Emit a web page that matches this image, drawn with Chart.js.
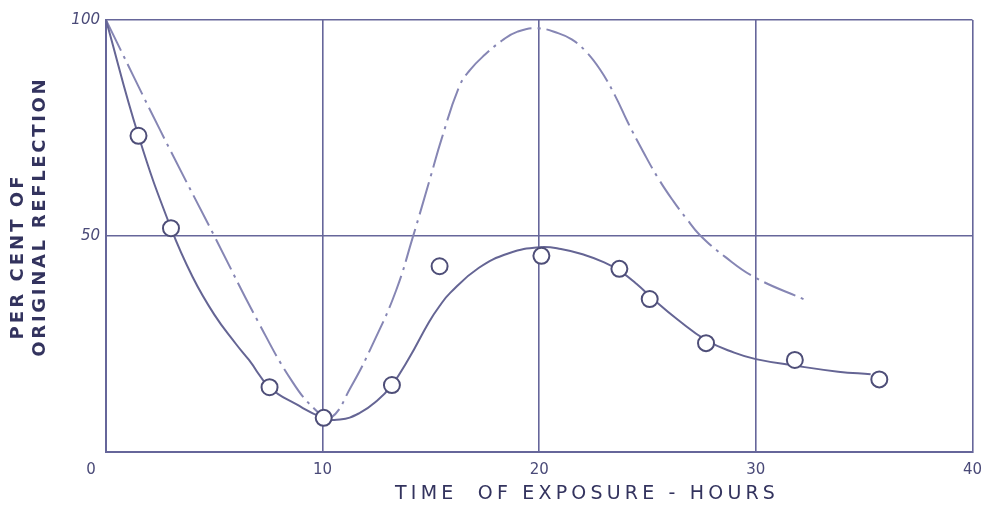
<!DOCTYPE html>
<html>
<head>
<meta charset="utf-8">
<script src="https://cdn.jsdelivr.net/npm/chart.js@4/dist/chart.umd.min.js"></script>
<style>
html,body{margin:0;padding:0;background:#ffffff;}
#wrap{width:991px;height:512px;position:relative;}
</style>
</head>
<body>
<div id="wrap"><canvas id="c" width="991" height="512"></canvas></div>
<script>
// ---- data ----
const xTickValues = [0, 10, 20, 30, 40];
const yTickValues = [0, 50, 100];

// measured points (open circles)
const obsHours      = [1.5, 3.0, 7.55, 10.05, 13.2, 15.4, 20.1, 23.7, 25.1, 27.7, 31.8, 35.7];
const obsReflection = [73.2, 51.8, 15.0, 7.9, 15.5, 43.0, 45.4, 42.4, 35.4, 25.2, 21.3, 16.8];

// smooth solid curve drawn through the points
const fitHours      = [0, 1.5, 3.0, 4.0, 5.0, 6.0, 6.6, 7.55, 8.8, 10.0, 10.8, 11.7, 12.5, 13.2, 14.0, 14.9, 15.4, 15.9, 17.2, 18.6, 20.0, 21.0, 22.1, 23.0, 23.7, 24.5, 25.3, 26.4, 27.7, 29.0, 30.0, 31.8, 33.8, 35.3];
const fitReflection = [100, 73.2, 51.8, 40.5, 31.8, 25.0, 21.3, 15.0, 11.0, 8.0, 7.5, 9.0, 11.8, 15.5, 21.8, 30.0, 33.8, 36.9, 42.6, 46.0, 47.4, 47.0, 45.6, 43.9, 42.0, 38.9, 35.2, 30.6, 25.9, 23.0, 21.5, 20.0, 18.6, 18.0];

// dash-dot curve
const dashHours      = [0, 2.5, 5.0, 7.05, 8.6, 9.7, 10.35, 11.3, 12.4, 13.4, 14.15, 15.0, 15.5, 16.3, 16.8, 17.5, 18.3, 19.0, 19.9, 20.9, 21.5, 22.1, 22.8, 23.5, 24.1, 24.8, 25.5, 26.2, 26.8, 27.4, 28.6, 30.0, 32.2];
const dashReflection = [100, 74.5, 50, 29.9, 16.3, 9.6, 7.8, 15.0, 25.9, 37.5, 49.5, 64.0, 72.6, 84.5, 88.4, 92.0, 95.3, 97.3, 98.1, 96.9, 95.5, 93.0, 88.6, 82.5, 76.2, 69.5, 63.3, 58.0, 54.0, 50.3, 45.1, 40.3, 35.4];

const xTitleText = 'TIME  OF EXPOSURE - HOURS';
const yTitleLines = ['PER CENT OF', 'ORIGINAL REFLECTION'];
const originLabel = '0';

// ---- styling ----
const INK = '#33335e';
const GRID = '#66669a';
const CURVE = '#656594';
const DASH = '#8686b4';

const toXY = (xs, ys) => xs.map((x, i) => ({x: x, y: ys[i]}));

const titlesPlugin = {
  id: 'handTitles',
  afterDraw(chart) {
    const ctx = chart.ctx;
    const xs = chart.scales.x, ys = chart.scales.y;
    const fitText = (txt, font, targetW) => {
      ctx.font = font;
      ctx.letterSpacing = '0px';
      const w = ctx.measureText(txt).width;
      return Math.max(0, (targetW - w) / txt.length);
    };
    ctx.save();
    ctx.textAlign = 'center';
    ctx.textBaseline = 'middle';
    // origin "0" shared by both axes
    ctx.font = '15px "DejaVu Sans"';
    ctx.fillStyle = '#4a4a78';
    ctx.fillText(originLabel, xs.getPixelForValue(0) - 15, ys.getPixelForValue(0) + 18);
    // x axis title
    ctx.fillStyle = INK;
    const xf = '19px "DejaVu Sans"';
    const xsp = fitText(xTitleText, xf, 384);
    ctx.font = xf;
    ctx.letterSpacing = xsp + 'px';
    ctx.fillText(xTitleText, 585 + xsp / 2, 494);
    // y axis title (two rotated lines)
    const yf = 'bold 18px "DejaVu Sans"';
    const widths = [166, 280];
    const centers = [[18, 258], [40, 218]];
    yTitleLines.forEach((line, i) => {
      const sp = fitText(line, yf, widths[i]);
      ctx.font = yf;
      ctx.letterSpacing = sp + 'px';
      ctx.save();
      ctx.translate(centers[i][0], centers[i][1]);
      ctx.rotate(-Math.PI / 2);
      ctx.fillText(line, sp / 2, 0);
      ctx.restore();
    });
    ctx.restore();
  }
};

new Chart(document.getElementById('c'), {
  type: 'scatter',
  data: {
    datasets: [
      {
        label: 'Measured',
        data: toXY(obsHours, obsReflection),
        showLine: false,
        pointRadius: 8,
        pointHoverRadius: 8,
        pointBorderWidth: 2,
        pointBorderColor: '#4e4e78',
        pointBackgroundColor: '#ffffff',
        order: 0
      },
      {
        label: 'Fitted curve',
        data: toXY(fitHours, fitReflection),
        showLine: true,
        borderColor: CURVE,
        borderWidth: 2,
        pointRadius: 0,
        tension: 0.45,
        fill: false,
        order: 1
      },
      {
        label: 'Dash-dot curve',
        data: toXY(dashHours, dashReflection),
        showLine: true,
        borderColor: DASH,
        borderWidth: 2,
        borderDash: [34, 6, 3, 6],
        pointRadius: 0,
        tension: 0.45,
        fill: false,
        order: 2
      }
    ]
  },
  options: {
    responsive: false,
    devicePixelRatio: 1,
    animation: false,
    layout: { padding: { left: 0, right: 16, top: 20, bottom: 0 } },
    plugins: { legend: { display: false }, tooltip: { enabled: false } },
    scales: {
      x: {
        type: 'linear',
        min: xTickValues[0],
        max: xTickValues[xTickValues.length - 1],
        afterBuildTicks: (s) => { s.ticks = xTickValues.map(v => ({value: v})); },
        ticks: {
          callback: (v) => (v === 0 ? '' : String(v)),
          color: '#4a4a78',
          font: { family: '"DejaVu Sans"', size: 15 },
          padding: 9,
          maxRotation: 0
        },
        grid: { color: GRID, lineWidth: 1.6, drawTicks: false },
        border: { display: true, color: GRID, width: 2 },
        afterFit: (s) => { s.height = 60; }
      },
      y: {
        type: 'linear',
        min: yTickValues[0],
        max: yTickValues[yTickValues.length - 1],
        afterBuildTicks: (s) => { s.ticks = yTickValues.map(v => ({value: v})); },
        ticks: {
          callback: (v) => (v === 0 ? '' : String(v)),
          color: '#4a4a78',
          font: { family: '"DejaVu Sans"', size: 15, style: 'italic' },
          padding: 6
        },
        grid: { color: GRID, lineWidth: 1.6, drawTicks: false },
        border: { display: true, color: GRID, width: 2 },
        afterFit: (s) => { s.width = 106; }
      }
    }
  },
  plugins: [titlesPlugin]
});
</script>
</body>
</html>
